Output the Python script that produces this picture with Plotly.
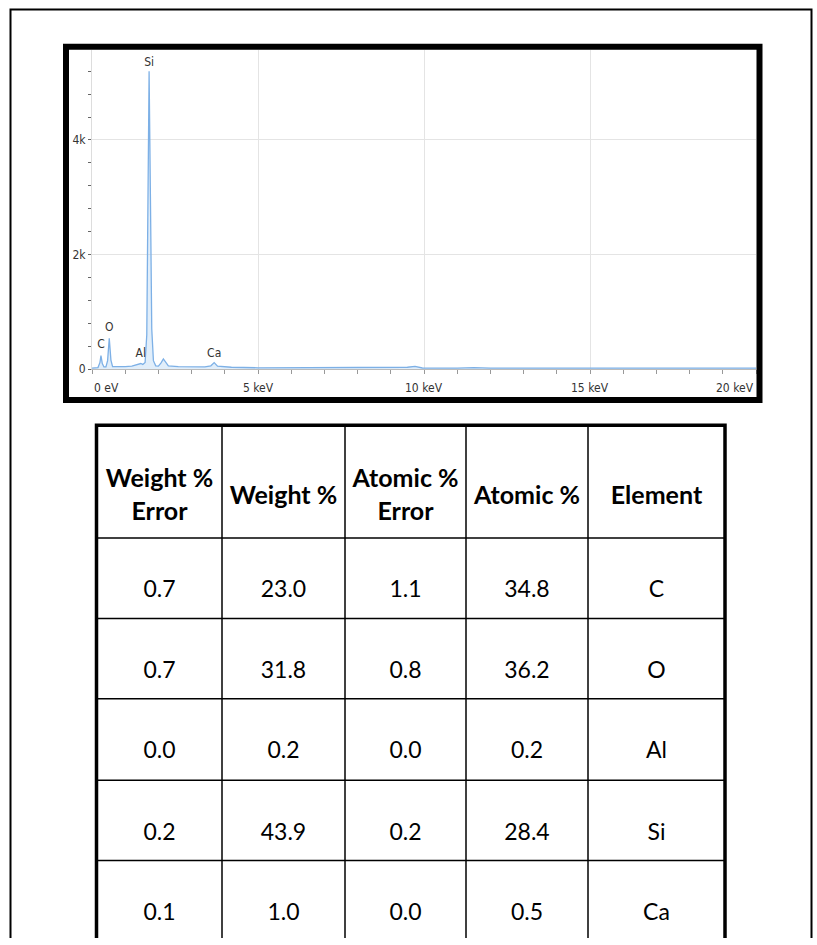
import plotly.graph_objects as go

W, H = 817, 945

# ---------------- spectrum data ----------------
energy_kev = [0.00, 0.10, 0.18, 0.24, 0.27, 0.31, 0.36, 0.42, 0.47, 0.52, 0.57, 0.62,
              0.80, 1.00, 1.20, 1.38, 1.47, 1.53, 1.60, 1.65, 1.69, 1.72, 1.76, 1.80,
              1.85, 1.92, 2.00, 2.08, 2.15, 2.22, 2.30, 2.60, 3.00, 3.40, 3.58, 3.68,
              3.78, 4.20, 5.00, 6.00, 7.00, 8.00, 9.00, 9.50, 9.73, 9.95, 11.0, 11.5,
              12.0, 14.0, 16.0, 18.0, 20.0]
counts = [20, 25, 30, 120, 240, 100, 40, 40, 150, 540, 160, 45,
          40, 45, 55, 80, 100, 85, 120, 600, 2800, 5200, 3000, 700,
          150, 60, 55, 110, 180, 120, 60, 45, 40, 40, 60, 115,
          55, 35, 25, 25, 28, 25, 25, 35, 50, 22, 20, 28,
          20, 20, 18, 18, 18]

peak_elements = ["C", "O", "Al", "Si", "Ca"]
peak_energy = [0.27, 0.52, 1.47, 1.72, 3.68]
peak_label_counts = [415, 727, 265, 5350, 265]

y_tick_vals = [0, 2000, 4000]
y_tick_text = ["0", "2k", "4k"]
x_tick_vals = [0, 5, 10, 15, 20]
x_tick_text = ["0 eV", "5 keV", "10 keV", "15 keV", "20 keV"]

# ---------------- table data ----------------
table_headers = ["Weight %<br>Error", "Weight %", "Atomic %<br>Error", "Atomic %", "Element"]
weight_err = ["0.7", "0.7", "0.0", "0.2", "0.1"]
weight_pct = ["23.0", "31.8", "0.2", "43.9", "1.0"]
atomic_err = ["1.1", "0.8", "0.0", "0.2", "0.0"]
atomic_pct = ["34.8", "36.2", "0.2", "28.4", "0.5"]
elements = ["C", "O", "Al", "Si", "Ca"]
table_columns = [weight_err, weight_pct, atomic_err, atomic_pct, elements]

# ---------------- layout geometry (pixels) ----------------
plot_l, plot_r, plot_t, plot_b = 92, 756, 50, 372
y_top_val = (plot_b - plot_t) * 2000 / 115.5

col_edges = [97, 222, 345, 466, 588, 725]
row_edges = [428, 542, 623, 704, 786, 867, 948]
header_text_y = 501
body_text_y = [596, 677, 758, 840, 921]

chart_font = "DejaVu Sans Condensed, Liberation Sans Narrow, Roboto Condensed, Roboto, sans-serif"
table_font = "Lato, Carlito, Calibri, sans-serif"

fig = go.Figure()

# spectrum
fig.add_trace(go.Scatter(
    x=energy_kev, y=counts, mode="lines",
    line=dict(color="#7db0e6", width=1.3),
    fill="tozeroy", fillcolor="rgba(170,205,240,0.35)",
    hoverinfo="skip", showlegend=False, xaxis="x", yaxis="y"))

# peak labels
fig.add_trace(go.Scatter(
    x=peak_energy, y=peak_label_counts, mode="text", text=peak_elements,
    textposition="middle center",
    textfont=dict(family=chart_font, size=12, color="#333333"),
    cliponaxis=False, hoverinfo="skip", showlegend=False, xaxis="x", yaxis="y"))

# table header text
col_centers = [(col_edges[i] + col_edges[i + 1]) / 2 for i in range(5)]
fig.add_trace(go.Scatter(
    x=col_centers, y=[header_text_y] * 5, mode="text",
    text=["<b>%s</b>" % h for h in table_headers],
    textposition="middle center",
    textfont=dict(family=table_font, size=25, color="black"),
    cliponaxis=False, hoverinfo="skip", showlegend=False, xaxis="x2", yaxis="y2"))

# table body text
bx, by, bt = [], [], []
for ci, col in enumerate(table_columns):
    for ri, v in enumerate(col):
        bx.append(col_centers[ci])
        by.append(body_text_y[ri])
        bt.append(v)
fig.add_trace(go.Scatter(
    x=bx, y=by, mode="text", text=bt, textposition="middle center",
    textfont=dict(family=table_font, size=23, color="black"),
    cliponaxis=False, hoverinfo="skip", showlegend=False, xaxis="x2", yaxis="y2"))

shapes = []
# page border
shapes.append(dict(type="rect", xref="x2", yref="y2", x0=10.5, y0=9.5, x1=811.5, y1=980,
                   line=dict(color="black", width=2), layer="above"))
# chart box
shapes.append(dict(type="rect", xref="x2", yref="y2", x0=66, y0=47, x1=759.5, y1=403,
                   line=dict(color="black", width=6), layer="above"))
# table inner lines
for x in col_edges[1:-1]:
    shapes.append(dict(type="line", xref="x2", yref="y2", x0=x, x1=x, y0=row_edges[0], y1=row_edges[-1],
                       line=dict(color="black", width=1.5), layer="above"))
for y in row_edges[1:-1]:
    shapes.append(dict(type="line", xref="x2", yref="y2", x0=col_edges[0], x1=col_edges[-1], y0=y, y1=y,
                       line=dict(color="black", width=1.5), layer="above"))
# table outer border
shapes.append(dict(type="rect", xref="x2", yref="y2", x0=col_edges[0] - 0.5, y0=row_edges[0] + 0.5,
                   x1=col_edges[-1], y1=row_edges[-1],
                   line=dict(color="black", width=3.5), layer="above"))

annotations = []
for v, t in zip(x_tick_vals, x_tick_text):
    anchor = "left" if v == x_tick_vals[0] else ("right" if v == x_tick_vals[-1] else "center")
    annotations.append(dict(x=v, xref="x", y=1 - 391 / H, yref="paper", text=t, showarrow=False,
                            xanchor=anchor, yanchor="middle",
                            font=dict(family=chart_font, size=12, color="#333333")))

fig.update_layout(
    width=W, height=H,
    margin=dict(l=0, r=0, t=0, b=0),
    paper_bgcolor="white", plot_bgcolor="rgba(0,0,0,0)",
    showlegend=False,
    xaxis=dict(domain=[plot_l / W, plot_r / W], range=[0, 20], anchor="y",
               tickvals=x_tick_vals, showticklabels=False,
               ticks="outside", ticklen=4, tickcolor="#999999",
               minor=dict(dtick=1, ticks="outside", ticklen=4, tickcolor="#999999"),
               showgrid=True, gridcolor="#e4e4e4", gridwidth=1,
               showline=True, linecolor="#bbbbbb", linewidth=1,
               zeroline=False, fixedrange=True),
    yaxis=dict(domain=[1 - plot_b / H, 1 - plot_t / H], range=[0, y_top_val], anchor="x",
               tickvals=y_tick_vals, ticktext=y_tick_text,
               ticks="outside", ticklen=3, tickcolor="#666666",
               minor=dict(dtick=400, ticks="outside", ticklen=3, tickcolor="#666666", showgrid=False),
               tickfont=dict(family=chart_font, size=12, color="#333333"),
               showgrid=True, gridcolor="#e4e4e4", gridwidth=1,
               showline=True, linecolor="#dddddd", linewidth=1,
               zeroline=False, fixedrange=True),
    xaxis2=dict(domain=[0, 1], range=[0, W], anchor="y2", visible=False, fixedrange=True),
    yaxis2=dict(domain=[0, 1], range=[H, 0], anchor="x2", visible=False, fixedrange=True),
    shapes=shapes,
    annotations=annotations,
)

fig.write_html("out.html",
               config={"displayModeBar": False, "staticPlot": True},
               post_script="document.body.style.margin='0';document.body.style.overflow='hidden';")
